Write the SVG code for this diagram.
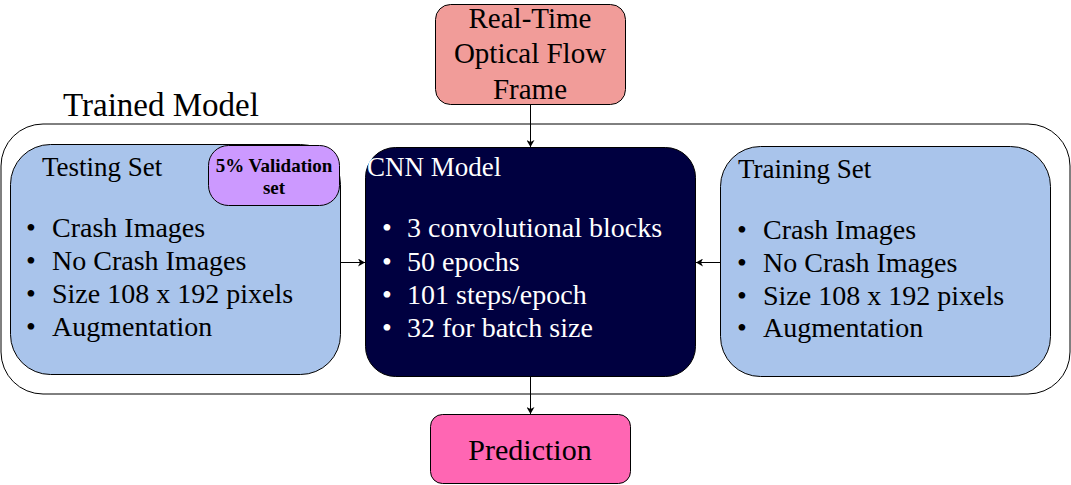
<svg xmlns="http://www.w3.org/2000/svg" width="1071" height="485" viewBox="0 0 1071 485" font-family="'Times New Roman', 'Liberation Serif', 'DejaVu Serif', serif">
<style>
text{font-family:"Times New Roman","Liberation Serif","DejaVu Serif",serif;}
.box{stroke:#000;stroke-width:1;}
.t{font-size:27px;fill:#000;}
.l{font-size:28px;fill:#000;}
.w{fill:#fff;}
.edge{stroke:#000;stroke-width:1;fill:none;marker-end:url(#arr);}
</style>
<defs>
<marker id="arr" markerWidth="8" markerHeight="8" refX="7" refY="4" orient="auto" markerUnits="userSpaceOnUse">
<path d="M0,0 L7,4 L0,8 L2,4 Z" fill="#000"/>
</marker>
</defs>
<rect width="1071" height="485" fill="#fff"/>
<g id="trained-model">
<rect class="box" x="1" y="124" width="1069" height="270" rx="42" fill="#fff"/>
<text x="63" y="116" style="font-size:33px">Trained Model</text>
</g>
<g id="testing-set">
<rect class="box" x="10.5" y="144.5" width="330" height="230" rx="40" fill="#A9C4EB"/>
<text class="t" x="42" y="176">Testing Set</text>
<text class="l"><tspan x="26" y="237">•</tspan><tspan x="52" y="237">Crash Images</tspan><tspan x="26" y="270">•</tspan><tspan x="52" y="270">No Crash Images</tspan><tspan x="26" y="303">•</tspan><tspan x="52" y="303">Size 108 x 192 pixels</tspan><tspan x="26" y="336">•</tspan><tspan x="52" y="336">Augmentation</tspan></text>
</g>
<g id="validation-set">
<rect class="box" x="208.5" y="145.5" width="131" height="60" rx="20" fill="#CC99FF"/>
<text x="274" y="172" text-anchor="middle" style="font-size:19px;font-weight:bold">5% Validation</text>
<text x="274" y="194" text-anchor="middle" style="font-size:19px;font-weight:bold">set</text>
</g>
<g id="cnn-model">
<rect class="box" x="365.5" y="147.5" width="330" height="229" rx="30" fill="#000040"/>
<text class="t w" x="367" y="176">CNN Model</text>
<text class="l w"><tspan x="382" y="237">•</tspan><tspan x="407" y="237">3 convolutional blocks</tspan><tspan x="382" y="271">•</tspan><tspan x="407" y="271">50 epochs</tspan><tspan x="382" y="304">•</tspan><tspan x="407" y="304">101 steps/epoch</tspan><tspan x="382" y="337">•</tspan><tspan x="407" y="337">32 for batch size</tspan></text>
</g>
<g id="training-set">
<rect class="box" x="720.5" y="146.5" width="330" height="230" rx="40" fill="#A9C4EB"/>
<text class="t" x="738" y="178">Training Set</text>
<text class="l"><tspan x="737" y="239">•</tspan><tspan x="763" y="239">Crash Images</tspan><tspan x="737" y="272">•</tspan><tspan x="763" y="272">No Crash Images</tspan><tspan x="737" y="305">•</tspan><tspan x="763" y="305">Size 108 x 192 pixels</tspan><tspan x="737" y="337">•</tspan><tspan x="763" y="337">Augmentation</tspan></text>
</g>
<g id="optical-flow">
<rect class="box" x="435.5" y="4.5" width="190" height="100" rx="15" fill="#F19C99"/>
<text x="530" y="28" text-anchor="middle" style="font-size:29px">Real-Time</text>
<text x="530" y="63" text-anchor="middle" style="font-size:29px">Optical Flow</text>
<text x="530" y="99" text-anchor="middle" style="font-size:29px">Frame</text>
</g>
<g id="prediction">
<rect class="box" x="430.5" y="414.5" width="200" height="69" rx="12" fill="#FF66B3"/>
<text x="530" y="460" text-anchor="middle" style="font-size:30px">Prediction</text>
</g>
<g id="connectors">
<line class="edge" x1="530.5" y1="104.5" x2="530.5" y2="147"/>
<line class="edge" x1="530.5" y1="377" x2="530.5" y2="414"/>
<line class="edge" x1="340.5" y1="262.5" x2="365" y2="262.5"/>
<line class="edge" x1="720.5" y1="262.5" x2="696" y2="262.5"/>
</g>
</svg>
